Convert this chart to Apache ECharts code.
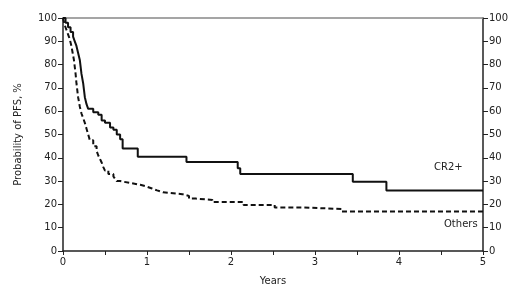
<!DOCTYPE html>
<html>
<head>
<meta charset="utf-8">
<script src="https://cdn.jsdelivr.net/npm/echarts@6/dist/echarts.min.js"></script>
<style>
  html, body { margin: 0; padding: 0; background: #fff; }
  #km { width: 520px; height: 296px; }
</style>
</head>
<body>
<div id="km"></div>
<script>
// 生存曲线数据 [年, %]
var cr2Data = [
  [0, 100], [0.03, 98], [0.06, 96], [0.09, 94], [0.12, 92], [0.14, 90],
  [0.16, 88], [0.18, 85], [0.2, 82], [0.21, 79], [0.22, 76], [0.24, 72],
  [0.25, 69], [0.26, 66], [0.28, 63], [0.3, 61], [0.36, 59.5], [0.42, 58.5],
  [0.46, 56], [0.5, 55], [0.56, 53], [0.6, 52], [0.64, 50], [0.68, 48],
  [0.71, 44], [0.89, 40.5], [1.47, 38.2], [2.08, 35.5], [2.11, 33],
  [3.45, 29.7], [3.85, 26], [5, 26]
]
var othersData = [
  [0, 100], [0.02, 97], [0.04, 95], [0.06, 93], [0.08, 91], [0.1, 88],
  [0.115, 85], [0.13, 82], [0.14, 79], [0.15, 76], [0.16, 72], [0.17, 69],
  [0.18, 66], [0.2, 62], [0.22, 59], [0.24, 57], [0.26, 55], [0.28, 52.5],
  [0.3, 50], [0.32, 47.5], [0.36, 45], [0.4, 43], [0.42, 41], [0.44, 39.5],
  [0.46, 38], [0.48, 36], [0.5, 34.5], [0.54, 33], [0.6, 32], [0.62, 31],
  [0.64, 30], [0.68, 29.2], [0.8, 28.4], [0.92, 27.6], [1.0, 26.8],
  [1.06, 26], [1.12, 25.2], [1.19, 24.4], [1.42, 23.6], [1.5, 22.5],
  [1.58, 21.9], [1.78, 21], [2.15, 19.7], [2.52, 18.7], [2.86, 18],
  [3.32, 17], [5, 17]
]
var seriesNames = ['CR2+', 'Others']
var xTicks = [0, 1, 2, 3, 4, 5]

var font = 'DejaVu Sans'
var chart = echarts.init(document.getElementById('km'))
chart.setOption({
  animation: false,
  grid: { left: 63, right: 37, top: 18, bottom: 45 },
  xAxis: [
    {
      type: 'value',
      min: 0,
      max: 5,
      interval: 0.5,
      name: 'Years',
      nameLocation: 'middle',
      nameGap: 25,
      nameTextStyle: { color: '#222', fontFamily: font, fontSize: 10 },
      axisLine: { show: true, onZero: false, lineStyle: { color: '#222', width: 1.5 } },
      axisTick: { show: true, length: 4, lineStyle: { color: '#222' } },
      axisLabel: {
        color: '#222',
        fontFamily: font,
        fontSize: 10,
        margin: 6,
        formatter: function (v) {
          return xTicks.indexOf(v) >= 0 ? String(v) : ''
        }
      },
      splitLine: { show: false }
    },
    {
      // 顶部灰色边线
      type: 'value',
      position: 'top',
      min: 0,
      max: 5,
      axisLine: { show: true, onZero: false, lineStyle: { color: '#888', width: 1.5 } },
      axisTick: { show: false },
      axisLabel: { show: false },
      splitLine: { show: false }
    }
  ],
  yAxis: [
    {
      type: 'value',
      min: 0,
      max: 100,
      interval: 10,
      name: 'Probability of PFS, %',
      nameLocation: 'middle',
      nameGap: 40,
      nameTextStyle: { color: '#222', fontFamily: font, fontSize: 10 },
      axisLine: { show: true, onZero: false, lineStyle: { color: '#222', width: 1.5 } },
      axisTick: { show: true, length: 5, lineStyle: { color: '#222' } },
      axisLabel: { color: '#222', fontFamily: font, fontSize: 10, margin: 6 },
      splitLine: { show: false }
    },
    {
      type: 'value',
      position: 'right',
      min: 0,
      max: 100,
      interval: 10,
      axisLine: { show: true, onZero: false, lineStyle: { color: '#222', width: 1.5 } },
      axisTick: { show: true, length: 5, lineStyle: { color: '#222' } },
      axisLabel: { color: '#222', fontFamily: font, fontSize: 10, margin: 6 },
      splitLine: { show: false }
    }
  ],
  series: [
    {
      name: seriesNames[0],
      type: 'line',
      step: 'end',
      showSymbol: false,
      lineStyle: { color: '#111', width: 2 },
      data: cr2Data
    },
    {
      name: seriesNames[1],
      type: 'line',
      step: 'end',
      showSymbol: false,
      lineStyle: { color: '#111', width: 2, type: [5, 3] },
      data: othersData
    }
  ],
  graphic: [
    {
      type: 'text',
      left: 434,
      top: 162,
      style: { text: seriesNames[0], fill: '#222', font: '10px "DejaVu Sans"' }
    },
    {
      type: 'text',
      left: 444,
      top: 219,
      style: { text: seriesNames[1], fill: '#222', font: '10px "DejaVu Sans"' }
    }
  ]
})
</script>
</body>
</html>
